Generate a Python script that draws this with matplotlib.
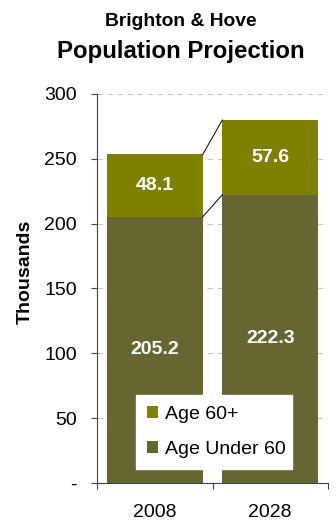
import matplotlib
matplotlib.use('Agg')
from matplotlib import pyplot as plt

plt.rcParams['font.family'] = ['Liberation Sans', 'DejaVu Sans']

years = ['2008', '2028']
under60 = [205.2, 222.3]
over60 = [48.1, 57.6]

col_under = '#666633'
col_over = '#808000'

fig = plt.figure(figsize=(3.36, 5.22), dpi=100)
ax = fig.add_axes([0.289, 0.075, 0.687, 0.745])

x = range(len(years))
w = 0.83
ax.bar(x, under60, width=w, color=col_under, label='Age Under 60', zorder=2)
ax.bar(x, over60, width=w, bottom=under60, color=col_over, label='Age 60+', zorder=2)

# series lines between the bars
tops = [a + b for a, b in zip(under60, over60)]
ax.plot([w / 2, 1 - w / 2], [tops[0], tops[1]], color='black', lw=0.7, zorder=3)
ax.plot([w / 2, 1 - w / 2], [under60[0], under60[1]], color='black', lw=0.7, zorder=3)

for i in x:
    ax.text(i, under60[i] / 2, f'{under60[i]:.1f}', ha='center', va='center',
            color='white', fontsize=14, fontweight='bold', zorder=4)
    ax.text(i, under60[i] + over60[i] / 2, f'{over60[i]:.1f}', ha='center', va='center',
            color='white', fontsize=14, fontweight='bold', zorder=4)

ax.set_xlim(-0.5, 1.5)
ax.set_ylim(0, 300)
ax.set_yticks(range(0, 301, 50))
ax.set_yticklabels(['-'] + [str(v) for v in range(50, 301, 50)], fontsize=14)
ax.set_xticks([-0.5, 0.5, 1.5])
ax.set_xticklabels([])
ax.set_xticks(list(x), minor=True)
ax.set_xticklabels(years, minor=True, fontsize=14)
ax.tick_params(axis='x', which='minor', length=0, pad=15)
ax.tick_params(axis='x', which='major', length=4.5, color='#444444')
ax.tick_params(axis='y', length=4.5, color='#444444', pad=10)

ax.yaxis.grid(True, linestyle=(0, (5, 4)), color='#c8c8c8', lw=0.8, zorder=0)
ax.spines['top'].set_visible(False)
ax.spines['right'].set_visible(False)
ax.spines['left'].set_color('#444444')
ax.spines['bottom'].set_color('#444444')

ax.set_ylabel('Thousands', fontsize=14, fontweight='bold')
ax.yaxis.set_label_coords(-0.275, 0.542)

handles, labels = ax.get_legend_handles_labels()
leg = ax.legend(handles[::-1], labels[::-1], loc='lower left',
                bbox_to_anchor=(0.169, 0.036, 0.675, 0.2), mode='expand',
                borderaxespad=0,
                frameon=True, fancybox=False, edgecolor='white', framealpha=1,
                fontsize=14, handlelength=0.57, handleheight=0.57, handletextpad=0.36,
                labelspacing=0.95, borderpad=0.55)
leg.set_zorder(5)

fig.text(0.539, 0.950, 'Brighton & Hove', ha='center', va='baseline',
         fontsize=13.9, fontweight='bold')
fig.text(0.539, 0.889, 'Population Projection', ha='center', va='baseline',
         fontsize=17.3, fontweight='bold')

fig.savefig('out.png', dpi=100)
